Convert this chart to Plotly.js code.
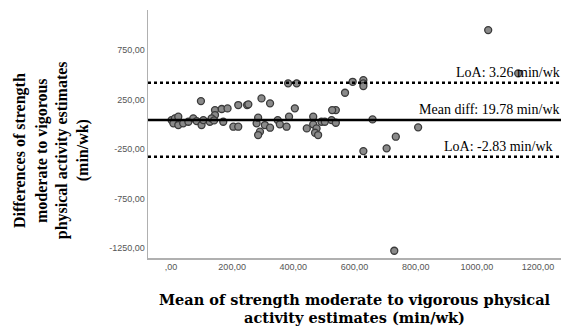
<!DOCTYPE html>
<html><head><meta charset="utf-8">
<script src="https://cdn.plot.ly/plotly-3.0.1.min.js"></script>
<style>html,body{margin:0;padding:0;background:#fff}#chart{width:565px;height:328px}</style>
</head><body><div id="chart"></div>
<script>
// Means (x) and differences (y), min/wk
const meanVals = [1037,1135,383,411,594,629,629,629,569,98,296,324,220,249,253,144,166,185,405,539,144,386,465,659,525,539,
  2,13,24,8,24,40,57,73,84,100,106,127,133,141,171,204,220,
  280,285,307,324,291,285,349,356,378,444,465,476,471,481,492,503,527,
  735,808,705,629,730];
const diffVals = [952,515,414,414,430,447,414,387,319,235,262,212,195,195,202,144,155,161,162,144,94,77,77,50,43,16,
  43,61,77,10,-7,10,26,61,33,-7,43,26,61,40,26,-24,-24,
  10,67,-7,-34,-74,-108,43,0,-24,-41,0,-41,-85,-108,26,26,144,
  -125,-30,-242,-270,-1277];
const meanDiff = 43;
const upperLoA = 420;
const lowerLoA = -327;
const xTickVals = [0,200,400,600,800,1000,1200];
const xTickText = [",00","200,00","400,00","600,00","800,00","1000,00","1200,00"];
const yTickVals = [750,250,-250,-750,-1250];
const yTickText = ["750,00","250,00","-250,00","-750,00","-1250,00"];
const labels = ["LoA: 3.26 min/wk","Mean diff: 19.78 min/wk","LoA: -2.83 min/wk"];
const yTitleLines = ["Differences of strength","moderate to vigorous","physical activity estimates","(min/wk)"];
const xTitleLines = ["Mean of strength moderate to vigorous physical","activity estimates (min/wk)"];

const serif = "Liberation Serif, Times New Roman, serif";
const trace = {
  x: meanVals, y: diffVals, mode: "markers", type: "scatter",
  marker: {size: 7, color: "#8a8a8a", line: {color: "#3a3a3a", width: 1.3}},
  hoverinfo: "none"
};
const ann = [
  {text: labels[0], xref: "paper", x: 1.002, xanchor: "right", yref: "y", y: upperLoA, yanchor: "bottom", yshift: 1, showarrow: false,
   font: {family: serif, size: 14, color: "#000"}},
  {text: labels[1], xref: "paper", x: 1.002, xanchor: "right", yref: "y", y: meanDiff, yanchor: "bottom", yshift: 1, showarrow: false,
   font: {family: serif, size: 14, color: "#000"}},
  {text: labels[2], xref: "paper", x: 0.985, xanchor: "right", yref: "y", y: lowerLoA, yanchor: "bottom", yshift: 1, showarrow: false,
   font: {family: serif, size: 14, color: "#000"}}
];
const yPos = [-0.310, -0.257, -0.208, -0.157];
yTitleLines.forEach((t, i) => ann.push({text: "<b>" + t + "</b>", xref: "paper", yref: "paper", x: yPos[i], y: 0.435,
  xanchor: "center", yanchor: "middle", textangle: -90, showarrow: false, font: {family: serif, size: 16, color: "#000"}}));
const xPos = [-0.169, -0.238];
xTitleLines.forEach((t, i) => ann.push({text: "<b>" + t + "</b>", xref: "paper", yref: "paper", x: 0.501, y: xPos[i],
  xanchor: "center", yanchor: "middle", showarrow: false, font: {family: "DejaVu Serif, serif", size: 14.5, color: "#000"}}));

const layout = {
  width: 565, height: 328,
  margin: {l: 148, r: 4, t: 10, b: 70},
  paper_bgcolor: "#fff", plot_bgcolor: "#fff",
  showlegend: false,
  xaxis: {range: [-75, 1275], tickvals: xTickVals, ticktext: xTickText,
    showgrid: false, zeroline: false, showline: true, linecolor: "#b0b0b0", linewidth: 1.5,
    ticks: "", ticklen: 0, tickfont: {family: "Liberation Sans, Arial, sans-serif", size: 9, color: "#555"}},
  yaxis: {range: [-1350, 1155], tickvals: yTickVals, ticktext: yTickText,
    showgrid: false, zeroline: false, showline: true, linecolor: "#b0b0b0", linewidth: 1.5,
    ticks: "", ticklen: 0, tickfont: {family: "Liberation Sans, Arial, sans-serif", size: 9, color: "#555"}},
  shapes: [
    {type: "line", xref: "paper", x0: 0, x1: 1, yref: "y", y0: meanDiff, y1: meanDiff, line: {color: "#000", width: 2.5}},
    {type: "line", xref: "paper", x0: 0, x1: 1, yref: "y", y0: upperLoA, y1: upperLoA, line: {color: "#000", width: 2.5, dash: "dot"}},
    {type: "line", xref: "paper", x0: 0, x1: 1, yref: "y", y0: lowerLoA, y1: lowerLoA, line: {color: "#000", width: 2.5, dash: "dot"}}
  ],
  annotations: ann
};
Plotly.newPlot("chart", [trace], layout, {staticPlot: true, displayModeBar: false});
</script></body></html>
